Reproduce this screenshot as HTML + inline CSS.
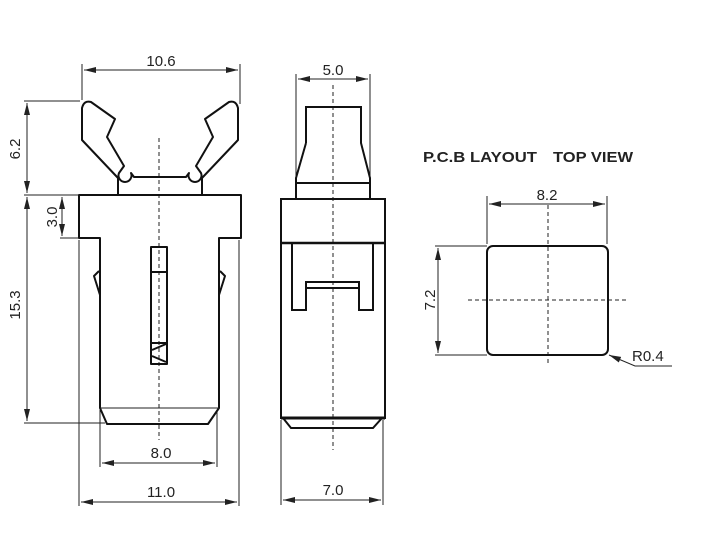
<!DOCTYPE html>
<html><head><meta charset="utf-8"><style>
html,body{margin:0;padding:0;background:#fff;}
svg{display:block;}
text{font-family:"Liberation Sans",Arial,sans-serif;fill:#222;}
</style></head><body>
<svg width="719" height="543" viewBox="0 0 719 543" xmlns="http://www.w3.org/2000/svg">
<defs>
<marker id="a" viewBox="0 0 12 6" refX="12" refY="3" markerWidth="12" markerHeight="6" orient="auto-start-reverse" markerUnits="userSpaceOnUse">
<path d="M0,0 L12,3 L0,6 z" fill="#222"/></marker>
</defs>
<g stroke="#222" stroke-width="1" fill="none">
<line x1="82" y1="64" x2="82" y2="100"/><line x1="240" y1="64" x2="240" y2="104"/>
<line x1="84" y1="70" x2="238" y2="70" marker-start="url(#a)" marker-end="url(#a)"/>
<line x1="24" y1="101" x2="80" y2="101"/><line x1="24" y1="195" x2="79" y2="195"/>
<line x1="27" y1="103" x2="27" y2="193" marker-start="url(#a)" marker-end="url(#a)"/>
<line x1="27" y1="197" x2="27" y2="421" marker-start="url(#a)" marker-end="url(#a)"/>
<line x1="24" y1="423" x2="105" y2="423"/>
<line x1="60" y1="238" x2="79" y2="238"/>
<line x1="62" y1="197" x2="62" y2="236" marker-start="url(#a)" marker-end="url(#a)"/>
<line x1="100" y1="410" x2="100" y2="467"/><line x1="217" y1="410" x2="217" y2="467"/>
<line x1="102" y1="463" x2="215" y2="463" marker-start="url(#a)" marker-end="url(#a)"/>
<line x1="79" y1="240" x2="79" y2="506"/><line x1="239" y1="240" x2="239" y2="506"/>
<line x1="81" y1="502" x2="237" y2="502" marker-start="url(#a)" marker-end="url(#a)"/>
<line x1="159" y1="138" x2="159" y2="440" stroke-dasharray="4,3"/>
</g>
<g stroke="#111" stroke-width="2" fill="none" stroke-linejoin="round">
<path d="M118,195 L118,178 L82,140 L82,108 Q84,100 91,102 L115,119 L107,137 L124,166 L119,173 A6.5,6.5 0 1 0 131,173 L134,177 L186,177 L189,173 A6.5,6.5 0 1 0 201,173 L196,166 L213,137 L205,119 L229,102 Q236,100 238,108 L238,140 L202,178 L202,195"/>
<path d="M79,195 L241,195 L241,238 L219,238 L219,408 L208,424 L107,424 L100,408 L100,238 L79,238 Z"/>
<path d="M99,271 L94,276 L100,295 M220,271 L225,276 L219,295"/>
<rect x="151" y="247" width="16" height="117"/>
<path d="M151,272 L167,272 M151,343 L167,343 M152,350 L166,344 M152,356 L166,362"/>
</g>
<line x1="100" y1="408" x2="219" y2="408" stroke="#222" stroke-width="1"/>
<g stroke="#222" stroke-width="1" fill="none">
<line x1="296" y1="74" x2="296" y2="180"/><line x1="370" y1="74" x2="370" y2="180"/>
<line x1="298" y1="79" x2="368" y2="79" marker-start="url(#a)" marker-end="url(#a)"/>
<line x1="333" y1="85" x2="333" y2="450" stroke-dasharray="4,3"/>
<line x1="281" y1="420" x2="281" y2="505"/><line x1="383" y1="420" x2="383" y2="505"/>
<line x1="283" y1="500" x2="381" y2="500" marker-start="url(#a)" marker-end="url(#a)"/>
</g>
<g stroke="#111" stroke-width="2" fill="none">
<path d="M306,143 L306,107 L361,107 L361,143 L370,178 L370,199 M306,143 L296,178 L296,199"/>
<line x1="296" y1="183" x2="370" y2="183"/>
<rect x="281" y="199" width="104" height="219"/>
<line x1="281" y1="243" x2="385" y2="243" stroke-width="2.5"/>
<path d="M292,243 L292,310 L306,310 L306,282 L359,282 L359,310 L373,310 L373,243"/>
<line x1="306" y1="288" x2="359" y2="288"/>
<path d="M283,418 L291,428 L373,428 L382,418"/>
</g>
<line x1="281" y1="418" x2="385" y2="418" stroke="#111" stroke-width="3"/>
<g stroke="#222" stroke-width="1" fill="none">
<line x1="487" y1="196" x2="487" y2="244"/><line x1="607" y1="196" x2="607" y2="244"/>
<line x1="489" y1="204" x2="605" y2="204" marker-start="url(#a)" marker-end="url(#a)"/>
<line x1="435" y1="246" x2="487" y2="246"/><line x1="435" y1="355" x2="487" y2="355"/>
<line x1="438" y1="248" x2="438" y2="353" marker-start="url(#a)" marker-end="url(#a)"/>
<line x1="468" y1="300" x2="628" y2="300" stroke-dasharray="4,3"/>
<line x1="548" y1="205" x2="548" y2="366" stroke-dasharray="4,3"/>
<path d="M672,366 L635,366 L609,355" marker-end="url(#a)"/>
</g>
<rect x="487" y="246" width="121" height="109" rx="6" fill="none" stroke="#111" stroke-width="2"/>
<g font-size="15">
<text x="161" y="66" text-anchor="middle">10.6</text>
<text x="333" y="75" text-anchor="middle">5.0</text>
<text x="161" y="458" text-anchor="middle">8.0</text>
<text x="161" y="497" text-anchor="middle">11.0</text>
<text x="333" y="495" text-anchor="middle">7.0</text>
<text x="547" y="200" text-anchor="middle">8.2</text>
<text x="632" y="361">R0.4</text>
<text transform="translate(20,149) rotate(-90)" text-anchor="middle">6.2</text>
<text transform="translate(20,305) rotate(-90)" text-anchor="middle">15.3</text>
<text transform="translate(57,217) rotate(-90)" text-anchor="middle">3.0</text>
<text transform="translate(435,300) rotate(-90)" text-anchor="middle">7.2</text>
</g>
<text x="423" y="162" font-size="15" font-weight="bold" textLength="114" lengthAdjust="spacingAndGlyphs">P.C.B LAYOUT</text>
<text x="553" y="162" font-size="15" font-weight="bold" textLength="80" lengthAdjust="spacingAndGlyphs">TOP VIEW</text>
</svg>
</body></html>
